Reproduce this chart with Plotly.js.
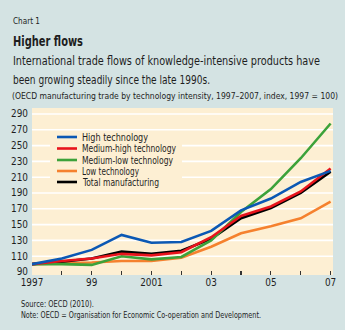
<!DOCTYPE html>
<html>
<head>
<meta charset="utf-8">
<script src="https://cdn.plot.ly/plotly-3.0.1.min.js"></script>
<style>
html,body{margin:0;padding:0;background:#d4e3e3;}
#chart{width:345px;height:330px;}
</style>
</head>
<body>
<div id="chart"></div>
<script>
// ---- data ----
var years = [1997, 1998, 1999, 2000, 2001, 2002, 2003, 2004, 2005, 2006, 2007];
var seriesNames = ["High technology", "Medium-high technology", "Medium-low technology", "Low technology", "Total manufacturing"];
var highTech      = [100, 107, 118, 137, 127, 128, 142, 168, 183, 204, 218];
var mediumHigh    = [100, 104, 107, 113, 111, 115, 134, 161, 173, 192, 221];
var mediumLow     = [100, 100,  99, 110, 106, 109, 130, 166, 195, 234, 278];
var lowTech       = [100, 101, 102, 104, 104, 108, 122, 139, 148, 158, 179];
var totalManuf    = [100, 103, 107, 116, 113, 117, 132, 158, 171, 190, 217];
var yTicks = [90, 110, 130, 150, 170, 190, 210, 230, 250, 270, 290];
var xTickText = ["1997", "", "99", "", "2001", "", "03", "", "05", "", "07"];

// ---- styles ----
var colors = ["#0b58b4", "#e8141c", "#3ca23a", "#f5812e", "#000000"];
var FONT = "'DejaVu Sans Condensed', 'Liberation Sans', sans-serif";
var paperBg = "#d4e3e3", plotBg = "#fdefd3", textCol = "#1e1e1e";

var W = 345, H = 330;
var M = {l: 32, r: 12, t: 108, b: 55};
var pw = W - M.l - M.r, ph = H - M.t - M.b;
function px(x) { return (x - M.l) / pw; }
function py(y) { return (H - M.b - y) / ph; }

var ctx = document.createElement("canvas").getContext("2d");
function measure(t, size, bold) {
  ctx.font = (bold ? "bold " : "") + size + "px " + FONT;
  return ctx.measureText(t).width;
}
function fit(t, targetW, bold) { return 100 * targetW / measure(t, 100, bold); }

var seriesData = [highTech, mediumHigh, mediumLow, lowTech, totalManuf];
var drawOrder = [3, 4, 2, 1, 0];
var traces = drawOrder.map(function (i) {
  return {x: years, y: seriesData[i], type: "scatter", mode: "lines", name: seriesNames[i],
          line: {color: colors[i], width: 2.6}, hoverinfo: "skip"};
});

var shapes = [];
yTicks.filter(function (v) { return v > yTicks[0]; }).forEach(function (v) {
  shapes.push({type: "line", xref: "paper", x0: 0, x1: 1, yref: "y", y0: v, y1: v,
               line: {color: "#ffffff", width: 1.6}, layer: "below"});
});
// legend background
shapes.push({type: "rect", xref: "paper", yref: "paper", x0: px(50), x1: px(182), y0: py(131), y1: py(188),
             fillcolor: plotBg, line: {width: 0}, layer: "below"});

var annotations = [];
var targetWidths = [];
function txt(t, x, y, size, targetW, bold) {
  // keep the natural (uncondensed) text inside the page
  var maxW = W - x - 3;
  var nat = measure(t, size, bold);
  if (nat > maxW) size = size * maxW / nat;
  annotations.push({text: bold ? "<b>" + t + "</b>" : t, xref: "paper", yref: "paper", x: px(x), y: py(y),
           xanchor: "left", yanchor: "middle", align: "left", showarrow: false,
           font: {family: FONT, size: size, color: textCol}});
  targetWidths.push(targetW);
}
txt("Chart 1", 11, 20, 9.5, 27);
txt("Higher flows", 11, 41, 14.5, 70, true);
txt("International trade flows of knowledge-intensive products have", 11, 61, 12.8, 307);
txt("been growing steadily since the late 1990s.", 11, 79, 12.8, 197);
txt("(OECD manufacturing trade by technology intensity, 1997\u20132007, index, 1997 = 100)", 10, 96, 9.6, 326);
txt("Source: OECD (2010).", 19, 304, 8.6, 73);
txt("Note: OECD = Organisation for Economic Co-operation and Development.", 19, 315, 8.6, 240);

// custom legend
var legY = [137, 148.5, 160, 171, 182];
var legW = [66, 94, 91, 57, 76];
seriesNames.forEach(function (n, i) {
  shapes.push({type: "line", xref: "paper", yref: "paper", x0: px(57), x1: px(77), y0: py(legY[i]), y1: py(legY[i]),
               line: {color: colors[i], width: 2.6}, layer: "above"});
  txt(n, 80, legY[i], 10.2, legW[i]);
});

var tickSize = fit("1997", 22);
var layout = {
  width: W, height: H,
  margin: M,
  paper_bgcolor: paperBg, plot_bgcolor: plotBg,
  showlegend: false,
  xaxis: {range: [1997, 2007.08], tickvals: years, ticktext: xTickText, ticks: "inside", ticklen: 4,
          tickwidth: 1.2, tickcolor: "#333", showgrid: false, zeroline: false, showline: false,
          tickfont: {family: FONT, size: tickSize * 1.03, color: textCol}, fixedrange: true},
  yaxis: {range: [86.2, 297.6], tickvals: yTicks, ticks: "", showgrid: false, zeroline: false, showline: false,
          tickfont: {family: FONT, size: fit("290", 17), color: textCol}, ticklabelstandoff: 3, fixedrange: true},
  shapes: shapes,
  annotations: annotations
};
Plotly.newPlot("chart", traces, layout, {displayModeBar: false, staticPlot: true}).then(function (gd) {
  // condense annotation text horizontally to the reference's narrow typeface widths
  gd.querySelectorAll("g.annotation").forEach(function (g) {
    var idx = +g.getAttribute("data-index");
    var t = g.querySelector("text.annotation-text");
    if (t && targetWidths[idx]) {
      t.setAttribute("textLength", targetWidths[idx]);
      t.setAttribute("lengthAdjust", "spacingAndGlyphs");
    }
  });
});
</script>
</body>
</html>
